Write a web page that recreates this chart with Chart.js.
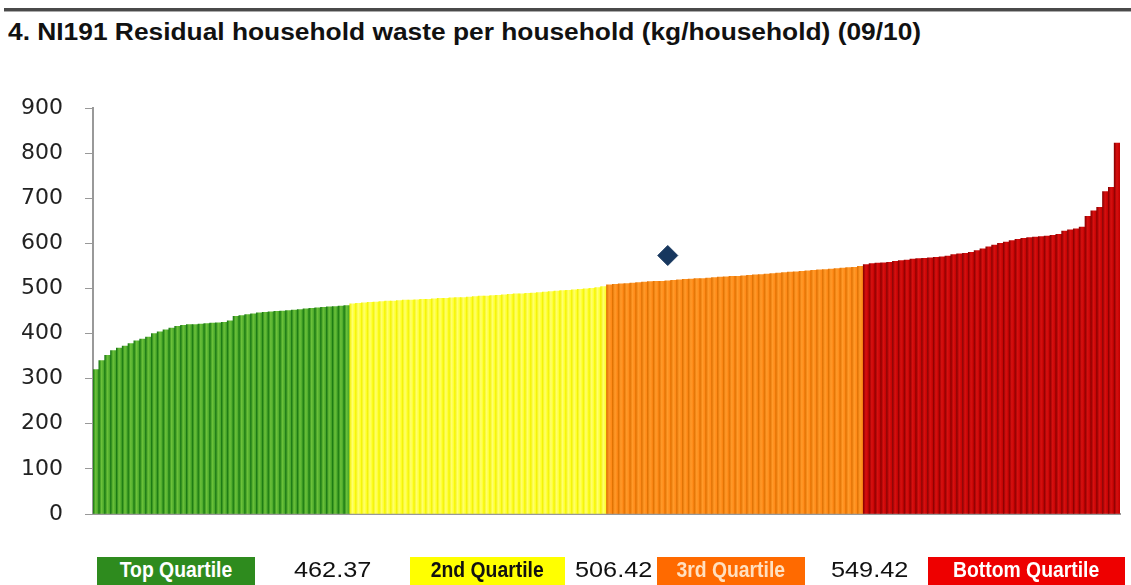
<!DOCTYPE html>
<html>
<head>
<meta charset="utf-8">
<script src="https://cdn.jsdelivr.net/npm/chart.js@4"></script>
<style>
  body { margin: 0; background: #fff; width: 1131px; height: 585px; overflow: hidden; position: relative; }
  #rule { position: absolute; left: 4px; right: 0; top: 8px; height: 3px; background: #4a4a4a; border-bottom: 1px solid #aaa; }
  #title { position: absolute; left: 8px; top: 19px; font: bold 23px "Liberation Sans", Arial, sans-serif; color: #111; white-space: nowrap; transform: scaleX(1.145); transform-origin: 0 0; }
  #chartBox { position: absolute; left: 0; top: 0; width: 1131px; height: 585px; }
  .key { position: absolute; top: 557px; height: 34px; line-height: 40px; font: 22px "Liberation Sans", Arial, sans-serif; text-align: center; }
  .key span { display: inline-block; }
  .key.box span { font-weight: bold; transform: scaleX(0.88); }
  .key.num span { transform: scaleX(1.15); }
</style>
</head>
<body>
<div id="rule"></div>
<div id="title">4. NI191 Residual household waste per household (kg/household) (09/10)</div>
<div id="chartBox"><canvas id="wasteChart" width="1131" height="585"></canvas></div>

<div class="key box" style="left:97px;width:158px;background:#2e8b1e;color:#fff"><span>Top Quartile</span></div>
<div class="key num" style="left:283px;width:100px;color:#111"><span>462.37</span></div>
<div class="key box" style="left:410px;width:155px;background:#ffff00;color:#111"><span>2nd Quartile</span></div>
<div class="key num" style="left:572px;width:84px;color:#111"><span>506.42</span></div>
<div class="key box" style="left:657px;width:148px;background:#ff6a00;color:#ffe0c0"><span>3rd Quartile</span></div>
<div class="key num" style="left:822px;width:96px;color:#111"><span>549.42</span></div>
<div class="key box" style="left:928px;width:197px;background:#ee0000;color:#fff"><span>Bottom Quartile</span></div>

<script>
// kg of residual waste per household, one bar per authority, lowest first
const topQuartile = [320, 340, 352, 362, 368, 372, 378, 384, 388, 392, 400, 404, 408, 412, 416, 418, 420, 420, 421, 422, 423, 424, 425, 428, 438, 440, 442, 444, 446, 447, 448, 449, 450, 451, 452, 453, 455, 456, 457, 458, 459, 460, 461, 462];
const secondQuartile = [466, 467, 468, 469, 470, 471, 472, 472, 473, 474, 474, 475, 476, 476, 477, 478, 478, 479, 480, 480, 481, 482, 483, 483, 484, 485, 486, 487, 488, 488, 489, 490, 491, 492, 493, 494, 495, 496, 497, 498, 499, 500, 502, 504];
const thirdQuartile = [508, 509, 510, 511, 512, 513, 514, 515, 516, 516, 517, 518, 519, 520, 521, 522, 522, 523, 524, 525, 526, 527, 527, 528, 529, 530, 531, 532, 533, 534, 535, 536, 537, 538, 539, 540, 541, 542, 543, 544, 545, 546, 547, 549];
const bottomQuartile = [553, 555, 556, 557, 558, 560, 562, 563, 565, 566, 567, 568, 569, 570, 572, 575, 577, 578, 580, 584, 588, 592, 596, 600, 603, 606, 609, 611, 613, 614, 615, 616, 618, 620, 627, 630, 632, 636, 660, 672, 680, 715, 724, 822];

// highlighted authority
const markerIndex = 98;
const markerValue = 573;

const yTicks = [0, 100, 200, 300, 400, 500, 600, 700, 800, 900];

const quartiles = [topQuartile, secondQuartile, thirdQuartile, bottomQuartile];
const values = quartiles.flat();
const labels = values.map((_, i) => String(i + 1));
const bandOf = [];
quartiles.forEach((q, b) => q.forEach(() => bandOf.push(b)));

const shades = [
  { dark: "#157510", light: "#6cc23a", mid: "#3e9e25" },
  { dark: "#f2f200", light: "#ffff70", mid: "#ffff10" },
  { dark: "#e07000", light: "#ff9a2a", mid: "#ff8410" },
  { dark: "#8a0000", light: "#d81010", mid: "#c00000" }
];

// each bar gets a left-to-right shade so neighbours read as separate columns
function barFill(ctx) {
  const s = shades[bandOf[ctx.dataIndex]];
  const chart = ctx.chart;
  const xs = chart.scales.x;
  if (!xs || !chart.chartArea) return s.mid;
  const half = xs.width / values.length / 2;
  const cx = xs.getPixelForValue(ctx.dataIndex);
  const g = chart.ctx.createLinearGradient(cx - half, 0, cx + half, 0);
  g.addColorStop(0, s.dark);
  g.addColorStop(0.45, s.light);
  g.addColorStop(1, s.mid);
  return g;
}

const markerData = values.map((_, i) => (i === markerIndex ? markerValue : null));

new Chart(document.getElementById("wasteChart"), {
  type: "bar",
  data: {
    labels: labels,
    datasets: [
      {
        type: "line",
        data: markerData,
        showLine: false,
        pointStyle: "rectRot",
        pointRadius: 10,
        pointBackgroundColor: "#17375e",
        pointBorderColor: "#17375e",
        order: 0
      },
      {
        data: values,
        backgroundColor: barFill,
        borderWidth: 0,
        categoryPercentage: 1,
        barPercentage: 1,
        order: 1
      }
    ]
  },
  options: {
    responsive: false,
    animation: false,
    layout: { padding: { top: 108, bottom: 63, left: 17, right: 3 } },
    plugins: { legend: { display: false }, tooltip: { enabled: false } },
    scales: {
      x: {
        ticks: { display: false },
        grid: { display: false },
        border: { color: "#999", width: 2 }
      },
      y: {
        min: 0,
        max: 900,
        afterBuildTicks: (axis) => { axis.ticks = yTicks.map(v => ({ value: v })); },
        afterFit: (axis) => { axis.width = 76; },
        ticks: { color: "#222", font: { family: "DejaVu Sans", size: 22 }, padding: 22 },
        grid: { drawOnChartArea: false, drawTicks: true, tickLength: 8, color: "#999" },
        border: { color: "#999", width: 2 }
      }
    }
  }
});
</script>
</body>
</html>
